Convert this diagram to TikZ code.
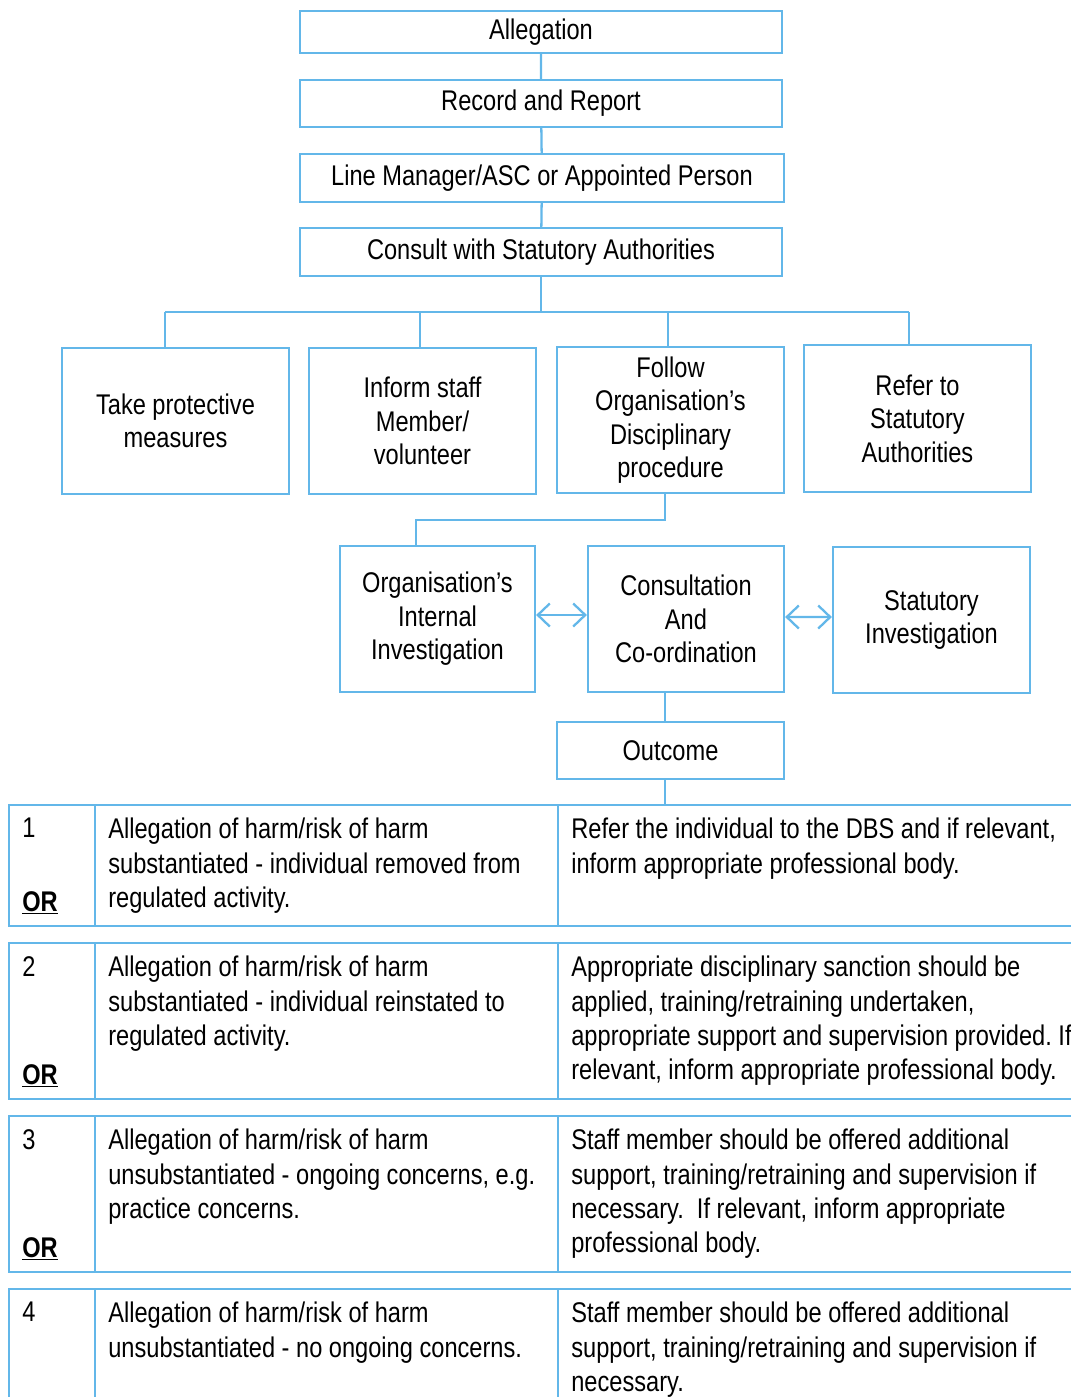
\documentclass[tikz,border=0pt]{standalone}
\usepackage{fontspec}
\setmainfont[FakeStretch=0.83]{Liberation Sans}
\usetikzlibrary{arrows.meta}
\definecolor{lineblue}{RGB}{99,183,233}
\tikzset{
	box/.style={draw=lineblue,line width=1.3pt,align=center,inner sep=0pt,font=\fontsize{16.2}{19}\selectfont},
	cell/.style={anchor=north west,inner sep=0pt,align=left,font=\fontsize{16.2}{19.4}\selectfont},
	orcell/.style={anchor=base west,inner sep=0pt,font=\fontsize{16.2}{19.4}\selectfont\bfseries},
	link/.style={draw=lineblue,line width=1.3pt},
	twoway/.style={link,{Straight Barb[length=2.4mm,width=4.6mm]}-{Straight Barb[length=2.4mm,width=4.6mm]}}
}
\frenchspacing
\begin{document}
\begin{tikzpicture}[x=0.02cm,y=-0.02cm]
	\useasboundingbox (0,0) rectangle (1071,1397);
	\clip (0,0) rectangle (1071,1397);
	% chain at the top
	\node[box,minimum width=9.64cm,minimum height=0.84cm] (alleg) at (541,32) {Allegation};
	\node[box,minimum width=9.64cm,minimum height=0.94cm] (record) at (541,103.5) {Record and Report};
	\node[box,minimum width=9.68cm,minimum height=0.96cm] (linemgr) at (542,178) {Line Manager/ASC or Appointed Person};
	\node[box,minimum width=9.64cm,minimum height=0.96cm] (consult) at (541,252) {Consult with Statutory Authorities};
	\draw[link] (alleg)--(record) (record)--(linemgr) (linemgr)--(consult);
	% four actions
	\node[box,minimum width=4.54cm,minimum height=2.92cm] (protect) at (175.5,421) {Take protective\\measures};
	\node[box,minimum width=4.54cm,minimum height=2.92cm] (inform) at (422.5,421) {Inform staff\\Member/\\volunteer};
	\node[box,minimum width=4.54cm,minimum height=2.92cm] (follow) at (670.5,420) {Follow\\Organisation’s\\Disciplinary\\procedure};
	\node[box,minimum width=4.54cm,minimum height=2.94cm] (refer) at (917.5,418.5) {Refer to\\Statutory\\Authorities};
	\coordinate (bus) at (541,312);
	\draw[link] (consult)--(bus)
	([xshift=-0.21cm]protect.north |- bus)--([xshift=-0.17cm]refer.north |- bus)
	\foreach \n/\dx in {protect/-0.21,inform/-0.05,follow/-0.05,refer/-0.17}{([xshift=\dx cm]\n.north |- bus)--([xshift=\dx cm]\n.north)};
	% investigation
	\node[box,minimum width=3.9cm,minimum height=2.92cm] (orgint) at (437.5,619) {Organisation’s\\Internal\\Investigation};
	\node[box,minimum width=3.92cm,minimum height=2.92cm] (coord) at (686,619) {Consultation\\And\\Co-ordination};
	\node[box,minimum width=3.94cm,minimum height=2.92cm] (statinv) at (931.5,620) {Statutory\\Investigation};
	\coordinate (jn) at (416,520);
	\draw[link] ([xshift=-0.11cm]follow.south)|-(jn)--(jn |- orgint.north);
	\draw[twoway] ([yshift=0.08cm]orgint.east)--([yshift=0.08cm]coord.west);
	\draw[twoway] ([yshift=0.04cm]coord.east)--([yshift=0.06cm]statinv.west);
	\node[box,minimum width=4.54cm,minimum height=1.14cm] (outcome) at (670.5,750.5) {Outcome};
	\draw[link] ([xshift=-0.11cm]outcome.north |- coord.south)--([xshift=-0.11cm]outcome.north);
	% outcome table
	\coordinate (tab) at (665,805);
	\draw[link] (tab |- outcome.south)--(tab);
	\foreach \t/\b in {805/926,943/1099,1116/1272,1289/1430}
	\draw[link] (9,\t) rectangle (1090,\b) (95,\t)--(95,\b) (558,\t)--(558,\b);
	\foreach \t/\k in {805/1,943/2,1116/3,1289/4}
	\node[cell] (n\k) at (22,\t+13) {\k};
	\foreach \b/\k in {926/1,1099/2,1272/3}
	\node[orcell] (or\k) at (22,\b-15) {\underline{OR}};
	\node[cell] (a1) at (108,818) {Allegation of harm/risk of harm\\substantiated - individual removed from\\regulated activity.};
	\node[cell] (b1) at (571,818) {Refer the individual to the DBS and if relevant,\\inform appropriate professional body.};
	\node[cell] (a2) at (108,956) {Allegation of harm/risk of harm\\substantiated - individual reinstated to\\regulated activity.};
	\node[cell] (b2) at (571,956) {Appropriate disciplinary sanction should be\\applied, training/retraining undertaken,\\appropriate support and supervision provided. If\\relevant, inform appropriate professional body.};
	\node[cell] (a3) at (108,1129) {Allegation of harm/risk of harm\\unsubstantiated - ongoing concerns, e.g.\\practice concerns.};
	\node[cell] (b3) at (571,1129) {Staff member should be offered additional\\support, training/retraining and supervision if\\necessary.\ \ If relevant, inform appropriate\\professional body.};
	\node[cell] (a4) at (108,1302) {Allegation of harm/risk of harm\\unsubstantiated - no ongoing concerns.};
	\node[cell] (b4) at (571,1302) {Staff member should be offered additional\\support, training/retraining and supervision if\\necessary.};
\end{tikzpicture}
\end{document}
